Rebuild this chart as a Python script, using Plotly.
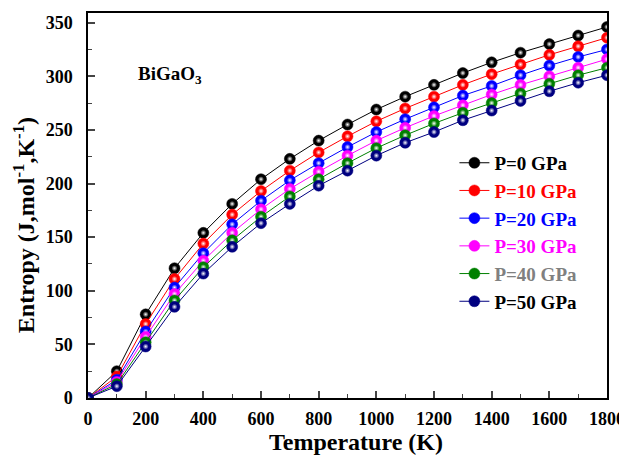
import plotly.graph_objects as go

temperature = [0, 100, 200, 300, 400, 500, 600, 700, 800, 900, 1000, 1100, 1200, 1300, 1400, 1500, 1600, 1700, 1800]
s_p0 = [0, 25, 78, 121, 154, 181, 204, 223, 240, 255, 269, 281, 292, 303, 313, 322, 330, 338, 346]
s_p10 = [0, 20, 69, 111, 144, 171, 193, 212, 229, 244, 258, 270, 281, 292, 302, 311, 320, 328, 336]
s_p20 = [0, 17, 62, 103, 135, 162, 184, 203, 219, 234, 248, 260, 271, 282, 291, 301, 310, 318, 325]
s_p30 = [0, 15, 57, 97, 128, 154, 176, 195, 211, 226, 240, 252, 263, 273, 283, 292, 300, 308, 316]
s_p40 = [0, 13, 52, 91, 122, 147, 169, 188, 204, 219, 233, 245, 256, 266, 275, 284, 293, 301, 308]
s_p50 = [0, 11, 48, 85, 116, 141, 163, 181, 198, 212, 226, 238, 248, 259, 268, 277, 286, 294, 301]

series = [
    ("P=0 GPa", s_p0, "#000000", "#000000"),
    ("P=10 GPa", s_p10, "#ff0000", "#ff0000"),
    ("P=20 GPa", s_p20, "#0000ff", "#0000ff"),
    ("P=30 GPa", s_p30, "#ff00ff", "#ff00ff"),
    ("P=40 GPa", s_p40, "#008000", "#808080"),
    ("P=50 GPa", s_p50, "#000080", "#000000"),
]

font_family = "Liberation Serif"
fig = go.Figure()
for name, vals, col, txtcol in series:
    fig.add_trace(go.Scatter(
        x=temperature, y=vals, mode="lines+markers",
        name=f"<span style='color:{txtcol}'>{name}</span>",
        legendgroup=name,
        line=dict(color=col, width=1),
        marker=dict(size=11, color=col, symbol="circle",
                    line=dict(width=0.5, color=col)),
    ))
    # sphere highlight
    fig.add_trace(go.Scatter(
        x=temperature, y=vals, mode="markers", showlegend=False,
        legendgroup=name, hoverinfo="skip",
        marker=dict(size=6, color=col, symbol="circle",
                    gradient=dict(type="radial", color="#ffffff"),
                    line=dict(width=0)),
    ))

fig.update_layout(
    width=619, height=447,
    margin=dict(l=80, r=20, t=5, b=57),
    paper_bgcolor="white", plot_bgcolor="white",
    font=dict(family=font_family, size=18, color="black"),
    showlegend=True,
    legend=dict(x=0.706, y=0.66, xanchor="left", yanchor="top",
                bgcolor="rgba(0,0,0,0)", font=dict(size=19, family=font_family, weight="bold"),
                tracegroupgap=0, itemwidth=30),
    annotations=[
        dict(x=0.092, y=0.84, xref="paper", yref="paper",
             text="<b>BiGaO<sub>3</sub></b>", showarrow=False,
             font=dict(size=19, family=font_family), xanchor="left", yanchor="middle"),
        dict(x=0, y=0.449, xref="paper", yref="paper", xshift=-64,
             text="<b>Entropy (J,mol<sup>-1</sup>,K<sup>-1</sup>)</b>", showarrow=False,
             textangle=-90, font=dict(size=24, family=font_family),
             xanchor="center", yanchor="middle"),
        dict(x=0.517, y=0, xref="paper", yref="paper", yshift=-29,
             text="<b>Temperature (K)</b>", showarrow=False,
             font=dict(size=24, family=font_family),
             xanchor="center", yanchor="top"),
    ],
)
fig.update_xaxes(
    range=[0, 1800], dtick=200, showline=True, linecolor="black", linewidth=1.5,
    mirror=True, ticks="inside", ticklen=7, tickwidth=1.5, showgrid=False, zeroline=False,
    automargin=False, ticklabelstandoff=4,
    tickfont=dict(size=18, family=font_family, weight="bold"),
    minor=dict(dtick=100, ticks="inside", ticklen=4, tickwidth=1),
)
fig.update_yaxes(
    range=[0, 359], dtick=50, showline=True, linecolor="black", linewidth=1.5,
    mirror=True, ticks="inside", ticklen=7, tickwidth=1.5, showgrid=False, zeroline=False,
    automargin=False, ticklabelstandoff=10,
    tickfont=dict(size=18, family=font_family, weight="bold"),
    minor=dict(dtick=25, ticks="inside", ticklen=4, tickwidth=1),
)
fig.write_html("out.html")
